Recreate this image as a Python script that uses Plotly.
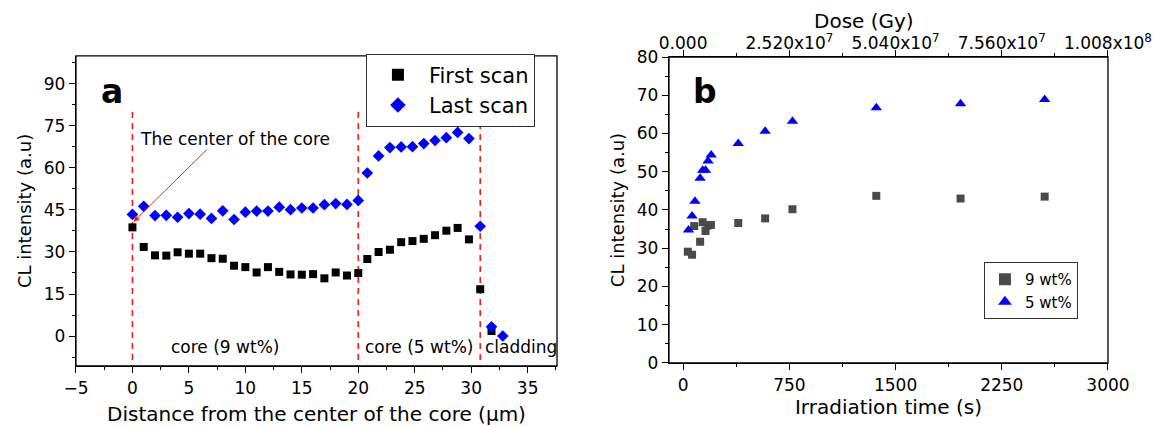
import plotly.graph_objects as go

# ---------------- Panel a data ----------------
pos_first = [0, 1, 2, 3, 4, 5, 6, 7, 8, 9, 10, 11, 12, 13, 14, 15, 16, 17, 18, 19, 20,
             20.8, 21.8, 22.8, 23.8, 24.8, 25.8, 26.8, 27.8, 28.8, 29.8, 30.8, 31.8]
first_scan = [38.8, 31.8, 28.8, 28.7, 29.9, 29.4, 29.4, 27.8, 27.6, 25.1, 24.6, 22.7, 24.6,
              22.9, 22.0, 21.9, 22.1, 20.6, 22.7, 21.6, 22.5,
              27.5, 30.0, 30.8, 33.5, 33.9, 34.7, 36.0, 37.6, 38.6, 34.5, 16.7, 1.8]
pos_last = [0, 1, 2, 3, 4, 5, 6, 7, 8, 9, 10, 11, 12, 13, 14, 15, 16, 17, 18, 19, 20,
            20.8, 21.8, 22.8, 23.8, 24.8, 25.8, 26.8, 27.8, 28.8, 29.8, 30.8, 31.8, 32.8]
last_scan = [43.4, 46.3, 43.0, 43.1, 42.4, 43.7, 43.5, 42.0, 44.7, 41.6, 44.2, 44.6, 44.6,
             46.0, 45.1, 45.7, 45.7, 46.9, 47.3, 47.0, 48.4,
             58.2, 64.3, 67.3, 67.5, 67.6, 68.7, 69.8, 70.8, 72.7, 70.5, 39.2, 3.3, 0.0]
boundaries = [0, 20, 30.8]
region_labels = ["core (9 wt%)", "core (5 wt%)", "cladding"]
region_label_x = [8.2, 25.4, 34.4]
a_xticks = [-5, 0, 5, 10, 15, 20, 25, 30, 35]
a_yticks = [0, 15, 30, 45, 60, 75, 90]

# ---------------- Panel b data ----------------
time_9 = [33, 63, 78, 120, 138, 158, 172, 196, 389, 579, 772, 1364, 1959, 2553]
cl_9 = [29.1, 28.3, 35.8, 31.7, 36.8, 34.5, 35.9, 36.1, 36.6, 37.8, 40.2, 43.7, 43.0, 43.5]
time_5 = [38, 63, 83, 120, 138, 158, 176, 198, 389, 579, 772, 1364, 1959, 2553]
cl_5 = [34.8, 38.4, 42.3, 48.3, 50.4, 50.4, 52.8, 54.4, 57.4, 60.6, 63.2, 66.7, 67.8, 68.9]
dose_per_second = 33600  # Gy per s  (3000 s <-> 1.008e8 Gy)
b_xticks = [0, 750, 1500, 2250, 3000]
b_yticks = [0, 10, 20, 30, 40, 50, 60, 70, 80]
dose_ticks = [0, 2.52e7, 5.04e7, 7.56e7, 1.008e8]
dose_ticklabels = ["0.000", "2.520x10<sup>7</sup>", "5.040x10<sup>7</sup>",
                   "7.560x10<sup>7</sup>", "1.008x10<sup>8</sup>"]

FONT = "DejaVu Sans"
BLUE = "#0000ff"

fig = go.Figure()

# dashed boundaries (panel a)
for b in boundaries:
    fig.add_trace(go.Scatter(x=[b, b], y=[80, -10.7], mode="lines",
                             line=dict(color="#ff1a1a", width=1.6, dash="6px,5px"),
                             showlegend=False, hoverinfo="skip", xaxis="x", yaxis="y"))

fig.add_trace(go.Scatter(x=pos_first, y=first_scan, mode="markers",
                         name="First scan",
                         marker=dict(symbol="square", size=8, color="black"),
                         xaxis="x", yaxis="y", legend="legend"))
fig.add_trace(go.Scatter(x=pos_last, y=last_scan, mode="markers",
                         name="Last scan",
                         marker=dict(symbol="diamond", size=9, color=BLUE),
                         xaxis="x", yaxis="y", legend="legend"))

# panel b
fig.add_trace(go.Scatter(x=time_9, y=cl_9, mode="markers", name="9 wt%",
                         marker=dict(symbol="square", size=8, color="#4a4a4a"),
                         xaxis="x2", yaxis="y2", legend="legend2"))
fig.add_trace(go.Scatter(x=time_5, y=cl_5, mode="markers", name="5 wt%",
                         marker=dict(symbol="triangle-up", size=10, color=BLUE),
                         xaxis="x2", yaxis="y2", legend="legend2"))
# invisible trace to bind the dose (top) axis
fig.add_trace(go.Scatter(x=[t * dose_per_second for t in time_5], y=cl_5, mode="markers",
                         marker=dict(opacity=0), showlegend=False, hoverinfo="skip",
                         xaxis="x3", yaxis="y2"))

axis_common = dict(showline=True, linecolor="black", linewidth=1.3, mirror=False,
                   automargin=False,
                   ticks="outside", ticklen=6, tickwidth=1.2, tickcolor="black",
                   showgrid=False, zeroline=False,
                   tickfont=dict(family=FONT, size=17, color="black"))

fig.update_layout(
    width=1158, height=427,
    margin=dict(l=0, r=0, t=0, b=0),
    paper_bgcolor="white", plot_bgcolor="white",
    font=dict(family=FONT, color="black"),
    xaxis=dict(axis_common, domain=[0.0656, 0.481], range=[-5, 37.6],
               tickvals=a_xticks, anchor="y",
               minor=dict(ticks="outside", ticklen=3, dtick=2.5, tick0=-2.5, tickcolor="black"),
               title=dict(text="Distance from the center of the core (µm)",
                          font=dict(family=FONT, size=20), standoff=10)),
    yaxis=dict(axis_common, domain=[0.1429, 0.869], range=[-10.7, 100],
               tickvals=a_yticks, anchor="x",
               minor=dict(ticks="outside", ticklen=3, dtick=7.5, tick0=-7.5, tickcolor="black"),
               title=dict(text="CL intensity (a.u)", font=dict(family=FONT, size=18), standoff=7)),
    xaxis2=dict(axis_common, domain=[0.5777, 0.9568], range=[-100, 3000],
                tickvals=b_xticks, anchor="y2",
                minor=dict(ticks="outside", ticklen=3, dtick=375, tick0=0, tickcolor="black"),
                title=dict(text="Irradiation time (s)", font=dict(family=FONT, size=20), standoff=6)),
    yaxis2=dict(axis_common, domain=[0.1499, 0.8665], range=[0, 80],
                tickvals=b_yticks, anchor="x2",
                minor=dict(ticks="outside", ticklen=3, dtick=5, tick0=0, tickcolor="black"),
                title=dict(text="CL intensity (a.u)", font=dict(family=FONT, size=18), standoff=7)),
    xaxis3=dict(axis_common, overlaying="x2", side="top", anchor="y2",
                range=[-100 * dose_per_second, 3000 * dose_per_second],
                tickvals=dose_ticks, ticktext=dose_ticklabels, ticklabelstandoff=-6,
                minor=dict(ticks="outside", ticklen=3, dtick=1.26e7, tick0=0, tickcolor="black")),
    legend=dict(x=0.316, y=0.789, xanchor="left", yanchor="middle",
                bordercolor="#333333", borderwidth=1, bgcolor="white",
                font=dict(family=FONT, size=21), itemsizing="constant",
                itemwidth=52, tracegroupgap=0),
    legend2=dict(x=0.8497, y=0.3197, xanchor="left", yanchor="middle",
                 bordercolor="#333333", borderwidth=1, bgcolor="white",
                 font=dict(family=FONT, size=15), itemsizing="constant"),
)

# full frames round each plot area
shapes = []
for xr, yr in (("x domain", "y domain"), ("x2 domain", "y2 domain")):
    shapes.append(dict(type="rect", xref=xr, yref=yr, x0=0, x1=1, y0=0, y1=1,
                       line=dict(color="black", width=1.3), fillcolor="rgba(0,0,0,0)",
                       layer="above"))
fig.update_layout(shapes=shapes)

annotations = []
# top axis title
annotations.append(dict(text="Dose (Gy)", x=0.746, y=0.951, xref="paper", yref="paper",
                        xanchor="center", yanchor="middle", showarrow=False,
                        font=dict(family=FONT, size=20)))
# panel labels
annotations.append(dict(text="<b>a</b>", x=0.0967, y=0.785, xref="paper", yref="paper",
                        xanchor="center", yanchor="middle",
                        showarrow=False, font=dict(family=FONT, size=33)))
annotations.append(dict(text="<b>b</b>", x=0.609, y=0.785, xref="paper", yref="paper",
                        xanchor="center", yanchor="middle",
                        showarrow=False, font=dict(family=FONT, size=33)))
# region labels
for lab, lx in zip(region_labels, region_label_x):
    annotations.append(dict(text=lab, x=lx, y=-3.9, xref="x", yref="y", showarrow=False,
                            font=dict(family=FONT, size=17)))
# center-of-core note with arrow
annotations.append(dict(text="The center of the core", x=0.45, y=70.4, xref="x", yref="y",
                        xanchor="left", showarrow=False, font=dict(family=FONT, size=17)))
annotations.append(dict(text="", x=0.1, y=40.8, xref="x", yref="y",
                        ax=6.7, ay=67, axref="x", ayref="y",
                        showarrow=True, arrowhead=2, arrowsize=1.2, arrowwidth=1,
                        arrowcolor="#ff1a1a"))
fig.update_layout(annotations=annotations)

fig.write_html("out.html")
